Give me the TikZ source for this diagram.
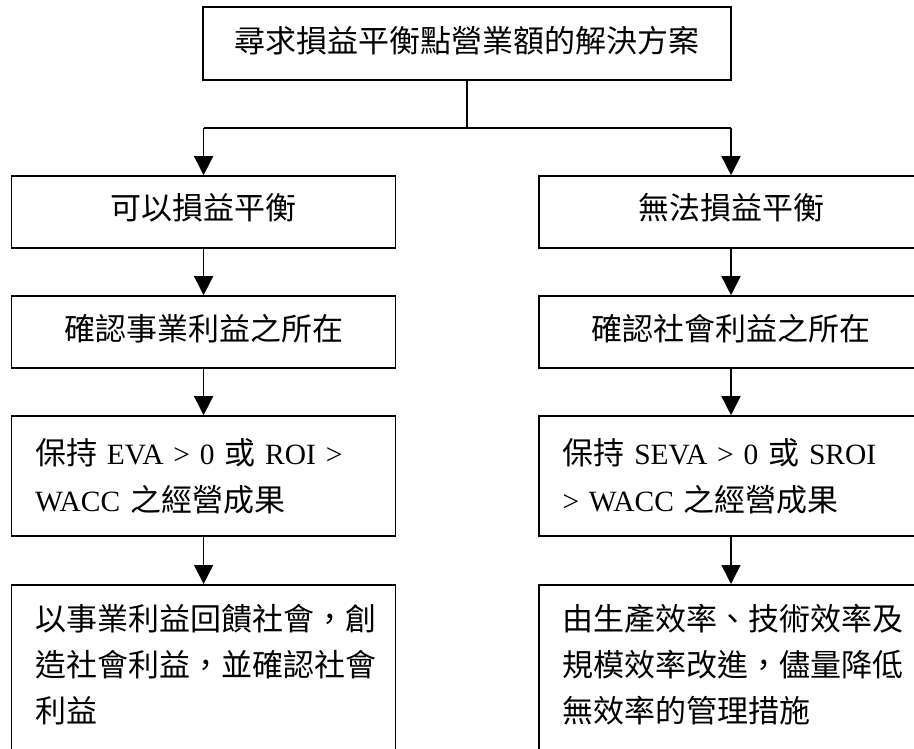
\documentclass[tikz,border=0pt]{standalone}
\usepackage{fontspec}
\setmainfont{Liberation Serif}[Scale=0.95]
\newfontfamily\cjk{Noto Sans CJK TC}
\usetikzlibrary{arrows.meta}
\newcommand\liftup[2]{\raisebox{#1}[\height][\depth]{#2}}
\begin{document}
\begin{tikzpicture}[x=1pt,y=-1pt,
  box/.style={draw, line width=1.6pt, inner sep=0pt, font=\fontsize{31}{47}\selectfont},
  wbox/.style={box, minimum width=384pt, minimum height=72pt},
  tbox/.style={box, minimum width=384pt, minimum height=120pt, inner xsep=23.5pt, align=left, text width=337pt},
  bbox/.style={box, anchor=north, minimum width=384pt, inner xsep=23.5pt, inner ysep=19pt},
  ln/.style={line width=1.5pt},
  arr/.style={line width=1.5pt, -{Triangle[width=19pt,length=19pt]}}]
\useasboundingbox (0,0) rectangle (914,749);
\clip (0,0) rectangle (914,749);
\node[box, minimum width=528pt, minimum height=73pt] (top) at (467,43.5) {\liftup{3pt}{\cjk 尋求損益平衡點營業額的解決方案}};
% left column
\node[wbox] (a1) at (203.6,212) {\liftup{4pt}{\cjk 可以損益平衡}};
\node[wbox] (a2) at (203.6,332) {\liftup{3pt}{\cjk 確認事業利益之所在}};
\node[tbox] (a3) at (203.6,476) {{\cjk 保持} EVA > 0 {\cjk 或} ROI >\\WACC {\cjk 之經營成果}};
\node[bbox] (a4) at (203.6,584) {\parbox[c][200pt][t]{337pt}{\fontsize{31}{46}\selectfont\cjk 以事業利益回饋社會，創\\造社會利益，並確認社會\\利益}};
% right column
\node[wbox] (b1) at (731,212) {\liftup{4pt}{\cjk 無法損益平衡}};
\node[wbox] (b2) at (731,332) {\liftup{3pt}{\cjk 確認社會利益之所在}};
\node[tbox] (b3) at (731,476) {{\cjk 保持} SEVA > 0 {\cjk 或} SROI\\> WACC {\cjk 之經營成果}};
\node[bbox] (b4) at (731,584) {\parbox[c][200pt][t]{337pt}{\fontsize{31}{46}\selectfont\cjk 由生產效率、技術效率及\\規模效率改進，儘量降低\\無效率的管理措施}};
% connectors
\coordinate (j) at (467,128);
\draw[ln] (top.south) -- (j);
\draw[ln] (a1.north |- j) -- (b1.north |- j);
\draw[arr] (a1.north |- j) -- (a1.north);
\draw[arr] (b1.north |- j) -- (b1.north);
\draw[arr] (a1) -- (a2);
\draw[arr] (a2) -- (a3);
\draw[arr] (a3) -- (a4);
\draw[arr] (b1) -- (b2);
\draw[arr] (b2) -- (b3);
\draw[arr] (b3) -- (b4);
\end{tikzpicture}
\end{document}
